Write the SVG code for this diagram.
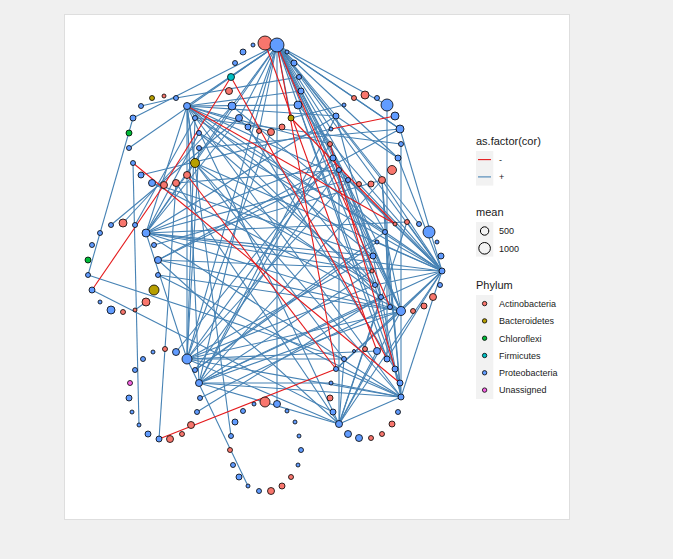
<svg xmlns="http://www.w3.org/2000/svg" width="673" height="559" viewBox="0 0 673 559">
<style>
.p{stroke:#4682B4;stroke-width:1.1;fill:none}
.n{stroke:#E41A1C;stroke-width:1.1;fill:none}
#nodes circle{stroke:#000;stroke-width:0.8}
.R{fill:#F8766D}.O{fill:#B79F00}.G{fill:#00BA38}.T{fill:#00BFC4}.B{fill:#619CFF}.P{fill:#F564E3}
text{font-family:"Liberation Sans",Arial,sans-serif;fill:#1a1a1a}
.tt{font-size:11px}.lb{font-size:9px}
.key{fill:#F2F2F2}
</style>
<rect x="0" y="0" width="673" height="559" fill="#F0F0F0"/>
<rect x="64.5" y="14.5" width="505" height="505" fill="#FFFFFF" stroke="#DEDEDE"/>
<g id="edges">
<line class="p" x1="277" y1="45" x2="187" y2="106"/>
<line class="p" x1="277" y1="45" x2="133" y2="118"/>
<line class="p" x1="277" y1="45" x2="129" y2="148"/>
<line class="p" x1="277" y1="45" x2="231" y2="77"/>
<line class="p" x1="277" y1="45" x2="232" y2="106"/>
<line class="p" x1="277" y1="45" x2="239" y2="118"/>
<line class="p" x1="277" y1="45" x2="248" y2="127"/>
<line class="p" x1="277" y1="45" x2="259" y2="131"/>
<line class="p" x1="277" y1="45" x2="291" y2="118"/>
<line class="p" x1="277" y1="45" x2="294" y2="63"/>
<line class="p" x1="277" y1="45" x2="336" y2="116"/>
<line class="p" x1="277" y1="45" x2="331" y2="129"/>
<line class="p" x1="277" y1="45" x2="333" y2="158"/>
<line class="p" x1="277" y1="45" x2="348" y2="180"/>
<line class="p" x1="277" y1="45" x2="387" y2="105"/>
<line class="p" x1="277" y1="45" x2="400" y2="129"/>
<line class="p" x1="277" y1="45" x2="398" y2="158"/>
<line class="p" x1="277" y1="45" x2="442" y2="271"/>
<line class="p" x1="277" y1="45" x2="401" y2="311"/>
<line class="p" x1="277" y1="45" x2="385" y2="232"/>
<line class="p" x1="277" y1="45" x2="373" y2="256"/>
<line class="p" x1="277" y1="45" x2="419" y2="224"/>
<line class="p" x1="277" y1="45" x2="387" y2="359"/>
<line class="p" x1="277" y1="45" x2="187" y2="359"/>
<line class="p" x1="277" y1="45" x2="146" y2="233"/>
<line class="p" x1="277" y1="45" x2="277" y2="404"/>
<line class="p" x1="277" y1="45" x2="375" y2="285"/>
<line class="p" x1="277" y1="45" x2="382" y2="180"/>
<line class="p" x1="187" y1="106" x2="298" y2="105"/>
<line class="p" x1="187" y1="106" x2="336" y2="116"/>
<line class="p" x1="187" y1="106" x2="330" y2="144"/>
<line class="p" x1="187" y1="106" x2="301" y2="91"/>
<line class="p" x1="187" y1="106" x2="271" y2="132"/>
<line class="p" x1="187" y1="106" x2="373" y2="256"/>
<line class="p" x1="187" y1="106" x2="442" y2="271"/>
<line class="p" x1="187" y1="106" x2="381" y2="297"/>
<line class="p" x1="187" y1="106" x2="187" y2="359"/>
<line class="p" x1="187" y1="106" x2="199" y2="383"/>
<line class="p" x1="187" y1="106" x2="339" y2="424"/>
<line class="p" x1="187" y1="106" x2="401" y2="397"/>
<line class="p" x1="187" y1="106" x2="348" y2="180"/>
<line class="p" x1="187" y1="106" x2="195" y2="163"/>
<line class="p" x1="187" y1="106" x2="146" y2="233"/>
<line class="p" x1="187" y1="106" x2="231" y2="436"/>
<line class="p" x1="176" y1="98" x2="141" y2="106"/>
<line class="p" x1="176" y1="98" x2="299" y2="77"/>
<line class="p" x1="146" y1="233" x2="232" y2="106"/>
<line class="p" x1="146" y1="233" x2="239" y2="118"/>
<line class="p" x1="146" y1="233" x2="199" y2="133"/>
<line class="p" x1="146" y1="233" x2="333" y2="158"/>
<line class="p" x1="146" y1="233" x2="336" y2="116"/>
<line class="p" x1="146" y1="233" x2="373" y2="256"/>
<line class="p" x1="146" y1="233" x2="372" y2="271"/>
<line class="p" x1="146" y1="233" x2="442" y2="271"/>
<line class="p" x1="146" y1="233" x2="187" y2="359"/>
<line class="p" x1="146" y1="233" x2="401" y2="397"/>
<line class="p" x1="146" y1="233" x2="401" y2="311"/>
<line class="p" x1="146" y1="233" x2="348" y2="180"/>
<line class="p" x1="123" y1="223" x2="232" y2="106"/>
<line class="p" x1="88" y1="275" x2="133" y2="118"/>
<line class="p" x1="88" y1="275" x2="344" y2="359"/>
<line class="p" x1="92" y1="290" x2="333" y2="412"/>
<line class="p" x1="146" y1="302" x2="135" y2="310"/>
<line class="p" x1="158" y1="260" x2="442" y2="271"/>
<line class="p" x1="158" y1="260" x2="401" y2="311"/>
<line class="p" x1="158" y1="260" x2="339" y2="170"/>
<line class="p" x1="158" y1="275" x2="401" y2="311"/>
<line class="p" x1="158" y1="275" x2="401" y2="397"/>
<line class="p" x1="154" y1="245" x2="382" y2="180"/>
<line class="p" x1="135" y1="225" x2="195" y2="118"/>
<line class="p" x1="111" y1="225" x2="239" y2="118"/>
<line class="p" x1="442" y1="271" x2="348" y2="180"/>
<line class="p" x1="442" y1="271" x2="382" y2="180"/>
<line class="p" x1="442" y1="271" x2="339" y2="170"/>
<line class="p" x1="442" y1="271" x2="398" y2="158"/>
<line class="p" x1="442" y1="271" x2="400" y2="129"/>
<line class="p" x1="442" y1="271" x2="298" y2="105"/>
<line class="p" x1="442" y1="271" x2="199" y2="133"/>
<line class="p" x1="442" y1="271" x2="195" y2="163"/>
<line class="p" x1="442" y1="271" x2="385" y2="232"/>
<line class="p" x1="442" y1="271" x2="377" y2="242"/>
<line class="p" x1="442" y1="271" x2="375" y2="285"/>
<line class="p" x1="442" y1="271" x2="401" y2="311"/>
<line class="p" x1="442" y1="271" x2="401" y2="397"/>
<line class="p" x1="442" y1="271" x2="387" y2="359"/>
<line class="p" x1="442" y1="271" x2="336" y2="369"/>
<line class="p" x1="442" y1="271" x2="199" y2="383"/>
<line class="p" x1="442" y1="271" x2="339" y2="424"/>
<line class="p" x1="442" y1="271" x2="359" y2="184"/>
<line class="p" x1="442" y1="271" x2="407" y2="222"/>
<line class="p" x1="401" y1="311" x2="401" y2="144"/>
<line class="p" x1="401" y1="311" x2="339" y2="170"/>
<line class="p" x1="401" y1="311" x2="330" y2="144"/>
<line class="p" x1="401" y1="311" x2="195" y2="163"/>
<line class="p" x1="401" y1="311" x2="152" y2="183"/>
<line class="p" x1="401" y1="311" x2="199" y2="383"/>
<line class="p" x1="401" y1="311" x2="187" y2="359"/>
<line class="p" x1="401" y1="311" x2="401" y2="397"/>
<line class="p" x1="401" y1="311" x2="339" y2="424"/>
<line class="p" x1="401" y1="311" x2="385" y2="232"/>
<line class="p" x1="401" y1="311" x2="373" y2="256"/>
<line class="p" x1="401" y1="311" x2="336" y2="369"/>
<line class="p" x1="401" y1="397" x2="375" y2="285"/>
<line class="p" x1="401" y1="397" x2="373" y2="256"/>
<line class="p" x1="401" y1="397" x2="339" y2="424"/>
<line class="p" x1="401" y1="397" x2="331" y2="383"/>
<line class="p" x1="401" y1="397" x2="336" y2="369"/>
<line class="p" x1="401" y1="397" x2="199" y2="383"/>
<line class="p" x1="401" y1="397" x2="187" y2="359"/>
<line class="p" x1="401" y1="397" x2="195" y2="163"/>
<line class="p" x1="401" y1="397" x2="382" y2="180"/>
<line class="p" x1="401" y1="397" x2="385" y2="232"/>
<line class="p" x1="339" y1="424" x2="377" y2="351"/>
<line class="p" x1="339" y1="424" x2="199" y2="383"/>
<line class="p" x1="339" y1="424" x2="187" y2="359"/>
<line class="p" x1="339" y1="424" x2="339" y2="170"/>
<line class="p" x1="339" y1="424" x2="176" y2="183"/>
<line class="p" x1="339" y1="424" x2="381" y2="297"/>
<line class="p" x1="339" y1="424" x2="344" y2="359"/>
<line class="p" x1="339" y1="424" x2="158" y2="260"/>
<line class="p" x1="187" y1="359" x2="333" y2="158"/>
<line class="p" x1="187" y1="359" x2="348" y2="180"/>
<line class="p" x1="187" y1="359" x2="373" y2="256"/>
<line class="p" x1="187" y1="359" x2="375" y2="285"/>
<line class="p" x1="187" y1="359" x2="344" y2="359"/>
<line class="p" x1="187" y1="359" x2="377" y2="351"/>
<line class="p" x1="187" y1="359" x2="199" y2="148"/>
<line class="p" x1="187" y1="359" x2="195" y2="118"/>
<line class="p" x1="187" y1="359" x2="271" y2="132"/>
<line class="p" x1="199" y1="383" x2="330" y2="144"/>
<line class="p" x1="199" y1="383" x2="372" y2="271"/>
<line class="p" x1="199" y1="383" x2="381" y2="297"/>
<line class="p" x1="199" y1="383" x2="259" y2="131"/>
<line class="p" x1="199" y1="383" x2="382" y2="180"/>
<line class="p" x1="199" y1="383" x2="331" y2="383"/>
<line class="p" x1="159" y1="439" x2="176" y2="183"/>
<line class="p" x1="197" y1="412" x2="381" y2="297"/>
<line class="p" x1="195" y1="370" x2="339" y2="170"/>
<line class="p" x1="195" y1="370" x2="377" y2="242"/>
<line class="p" x1="336" y1="116" x2="398" y2="158"/>
<line class="p" x1="336" y1="116" x2="199" y2="383"/>
<line class="p" x1="336" y1="116" x2="373" y2="256"/>
<line class="p" x1="400" y1="129" x2="287" y2="52"/>
<line class="p" x1="400" y1="129" x2="199" y2="148"/>
<line class="p" x1="400" y1="129" x2="158" y2="260"/>
<line class="p" x1="401" y1="144" x2="195" y2="118"/>
<line class="p" x1="387" y1="105" x2="387" y2="359"/>
<line class="p" x1="344" y1="105" x2="291" y2="118"/>
<line class="p" x1="333" y1="158" x2="381" y2="297"/>
<line class="p" x1="339" y1="170" x2="176" y2="183"/>
<line class="p" x1="348" y1="180" x2="372" y2="271"/>
<line class="p" x1="382" y1="180" x2="390" y2="307"/>
<line class="p" x1="385" y1="232" x2="195" y2="118"/>
<line class="p" x1="385" y1="232" x2="195" y2="370"/>
<line class="p" x1="375" y1="285" x2="199" y2="133"/>
<line class="p" x1="407" y1="222" x2="339" y2="424"/>
<line class="p" x1="407" y1="222" x2="146" y2="233"/>
<line class="p" x1="248" y1="486" x2="187" y2="359"/>
<line class="p" x1="187" y1="175" x2="375" y2="285"/>
<line class="p" x1="152" y1="183" x2="373" y2="256"/>
<line class="p" x1="141" y1="175" x2="331" y2="129"/>
<line class="p" x1="133" y1="163" x2="139" y2="425"/>
<line class="p" x1="176" y1="352" x2="333" y2="158"/>
<line class="p" x1="200" y1="398" x2="390" y2="307"/>
<line class="p" x1="344" y1="359" x2="195" y2="163"/>
<line class="p" x1="301" y1="91" x2="377" y2="242"/>
<line class="p" x1="298" y1="105" x2="400" y2="383"/>
<line class="p" x1="239" y1="118" x2="375" y2="285"/>
<line class="p" x1="248" y1="127" x2="395" y2="369"/>
<line class="p" x1="232" y1="106" x2="385" y2="232"/>
<line class="n" x1="187" y1="106" x2="395" y2="224"/>
<line class="n" x1="231" y1="77" x2="164" y2="185"/>
<line class="n" x1="231" y1="77" x2="387" y2="359"/>
<line class="n" x1="133" y1="163" x2="400" y2="383"/>
<line class="n" x1="92" y1="290" x2="164" y2="185"/>
<line class="n" x1="331" y1="129" x2="395" y2="116"/>
<line class="n" x1="277" y1="45" x2="336" y2="369"/>
<line class="n" x1="159" y1="439" x2="336" y2="369"/>
<line class="n" x1="187" y1="175" x2="336" y2="369"/>
<line class="n" x1="265" y1="43" x2="377" y2="351"/>
<line class="n" x1="277" y1="45" x2="390" y2="307"/>
<line class="n" x1="330" y1="144" x2="395" y2="369"/>
<line class="n" x1="291" y1="118" x2="395" y2="224"/>
</g>
<g id="nodes">
<g id="a0"><circle class="R" cx="265" cy="43" r="7"/></g>
<g id="a1"><circle class="B" cx="277" cy="45" r="7"/></g>
<g id="a2"><circle class="B" cx="287" cy="52" r="2"/></g>
<g id="a3"><circle class="B" cx="294" cy="63" r="3"/></g>
<g id="a4"><circle class="B" cx="299" cy="77" r="2.5"/></g>
<g id="a5"><circle class="B" cx="301" cy="91" r="3"/></g>
<g id="a6"><circle class="B" cx="298" cy="105" r="4"/></g>
<g id="a7"><circle class="O" cx="291" cy="118" r="3"/></g>
<g id="a8"><circle class="R" cx="282" cy="127" r="3"/></g>
<g id="a9"><circle class="R" cx="271" cy="132" r="3.5"/></g>
<g id="a10"><circle class="R" cx="259" cy="131" r="2.5"/></g>
<g id="a11"><circle class="B" cx="248" cy="127" r="3"/></g>
<g id="a12"><circle class="B" cx="239" cy="118" r="3.5"/></g>
<g id="a13"><circle class="B" cx="232" cy="106" r="4"/></g>
<g id="a14"><circle class="R" cx="229" cy="91" r="3.5"/></g>
<g id="a15"><circle class="T" cx="231" cy="77" r="3.5"/></g>
<g id="a16"><circle class="B" cx="235" cy="63" r="2.5"/></g>
<g id="a17"><circle class="B" cx="243" cy="52" r="3"/></g>
<g id="a18"><circle class="B" cx="253" cy="45" r="2"/></g>
<g id="b0"><circle class="O" cx="152" cy="98" r="2.5"/></g>
<g id="b1"><circle class="R" cx="164" cy="96" r="2"/></g>
<g id="b2"><circle class="B" cx="176" cy="98" r="2.5"/></g>
<g id="b3"><circle class="B" cx="187" cy="106" r="3.5"/></g>
<g id="b4"><circle class="B" cx="195" cy="118" r="2.5"/></g>
<g id="b5"><circle class="B" cx="199" cy="133" r="2.5"/></g>
<g id="b6"><circle class="B" cx="199" cy="148" r="2.5"/></g>
<g id="b7"><circle class="O" cx="195" cy="163" r="4.5"/></g>
<g id="b8"><circle class="R" cx="187" cy="175" r="3.5"/></g>
<g id="b9"><circle class="R" cx="176" cy="183" r="3.5"/></g>
<g id="b10"><circle class="R" cx="164" cy="185" r="3.5"/></g>
<g id="b11"><circle class="B" cx="152" cy="183" r="3.5"/></g>
<g id="b12"><circle class="B" cx="141" cy="175" r="3"/></g>
<g id="b13"><circle class="B" cx="133" cy="163" r="2.5"/></g>
<g id="b14"><circle class="B" cx="129" cy="148" r="2.5"/></g>
<g id="b15"><circle class="G" cx="129" cy="133" r="3"/></g>
<g id="b16"><circle class="B" cx="133" cy="118" r="3"/></g>
<g id="b17"><circle class="B" cx="141" cy="106" r="2.5"/></g>
<g id="c0"><circle class="R" cx="354" cy="98" r="2.5"/></g>
<g id="c1"><circle class="R" cx="365" cy="95" r="4"/></g>
<g id="c2"><circle class="B" cx="377" cy="98" r="2.5"/></g>
<g id="c3"><circle class="B" cx="387" cy="105" r="6"/></g>
<g id="c4"><circle class="B" cx="395" cy="116" r="4"/></g>
<g id="c5"><circle class="B" cx="400" cy="129" r="4"/></g>
<g id="c6"><circle class="B" cx="401" cy="144" r="2.5"/></g>
<g id="c7"><circle class="B" cx="398" cy="158" r="3"/></g>
<g id="c8"><circle class="R" cx="392" cy="170" r="4.5"/></g>
<g id="c9"><circle class="R" cx="382" cy="180" r="3.5"/></g>
<g id="c10"><circle class="R" cx="371" cy="184" r="3"/></g>
<g id="c11"><circle class="R" cx="359" cy="184" r="2.5"/></g>
<g id="c12"><circle class="B" cx="348" cy="180" r="2.5"/></g>
<g id="c13"><circle class="B" cx="339" cy="170" r="2.5"/></g>
<g id="c14"><circle class="B" cx="333" cy="158" r="3"/></g>
<g id="c15"><circle class="R" cx="330" cy="144" r="2.5"/></g>
<g id="c16"><circle class="B" cx="331" cy="129" r="2"/></g>
<g id="c17"><circle class="B" cx="336" cy="116" r="3"/></g>
<g id="c18"><circle class="B" cx="344" cy="105" r="2"/></g>
<g id="d0"><circle class="R" cx="123" cy="223" r="4"/></g>
<g id="d1"><circle class="B" cx="135" cy="225" r="2.5"/></g>
<g id="d2"><circle class="B" cx="146" cy="233" r="4"/></g>
<g id="d3"><circle class="B" cx="154" cy="245" r="2.5"/></g>
<g id="d4"><circle class="B" cx="158" cy="260" r="3.5"/></g>
<g id="d5"><circle class="B" cx="158" cy="275" r="2.5"/></g>
<g id="d6"><circle class="O" cx="154" cy="290" r="5"/></g>
<g id="d7"><circle class="R" cx="146" cy="302" r="4"/></g>
<g id="d8"><circle class="R" cx="135" cy="310" r="2"/></g>
<g id="d9"><circle class="R" cx="123" cy="312" r="2.5"/></g>
<g id="d10"><circle class="B" cx="111" cy="310" r="4"/></g>
<g id="d11"><circle class="B" cx="100" cy="302" r="2"/></g>
<g id="d12"><circle class="B" cx="92" cy="290" r="3"/></g>
<g id="d13"><circle class="B" cx="88" cy="275" r="2.5"/></g>
<g id="d14"><circle class="G" cx="88" cy="260" r="3"/></g>
<g id="d15"><circle class="B" cx="92" cy="245" r="2.5"/></g>
<g id="d16"><circle class="B" cx="100" cy="233" r="2.5"/></g>
<g id="d17"><circle class="B" cx="111" cy="225" r="2.5"/></g>
<g id="e0"><circle class="R" cx="395" cy="224" r="2"/></g>
<g id="e1"><circle class="R" cx="407" cy="222" r="2.5"/></g>
<g id="e2"><circle class="B" cx="419" cy="224" r="2.5"/></g>
<g id="e3"><circle class="B" cx="429" cy="232" r="6"/></g>
<g id="e4"><circle class="B" cx="437" cy="242" r="2"/></g>
<g id="e5"><circle class="B" cx="441" cy="256" r="3"/></g>
<g id="e6"><circle class="B" cx="442" cy="271" r="3"/></g>
<g id="e7"><circle class="B" cx="440" cy="285" r="2.5"/></g>
<g id="e8"><circle class="R" cx="433" cy="297" r="3.5"/></g>
<g id="e9"><circle class="R" cx="424" cy="306" r="3"/></g>
<g id="e10"><circle class="R" cx="413" cy="311" r="2.5"/></g>
<g id="e11"><circle class="B" cx="401" cy="311" r="4.5"/></g>
<g id="e12"><circle class="B" cx="390" cy="307" r="2.5"/></g>
<g id="e13"><circle class="B" cx="381" cy="297" r="2.5"/></g>
<g id="e14"><circle class="B" cx="375" cy="285" r="2.5"/></g>
<g id="e15"><circle class="R" cx="372" cy="271" r="2"/></g>
<g id="e16"><circle class="B" cx="373" cy="256" r="3"/></g>
<g id="e17"><circle class="B" cx="377" cy="242" r="2"/></g>
<g id="e18"><circle class="B" cx="385" cy="232" r="2.5"/></g>
<g id="f0"><circle class="B" cx="176" cy="352" r="3.5"/></g>
<g id="f1"><circle class="R" cx="165" cy="349" r="2.5"/></g>
<g id="f2"><circle class="B" cx="153" cy="352" r="2"/></g>
<g id="f3"><circle class="B" cx="143" cy="359" r="2.5"/></g>
<g id="f4"><circle class="B" cx="135" cy="370" r="2.5"/></g>
<g id="f5"><circle class="P" cx="130" cy="383" r="2.5"/></g>
<g id="f6"><circle class="B" cx="129" cy="398" r="3"/></g>
<g id="f7"><circle class="B" cx="132" cy="412" r="2"/></g>
<g id="f8"><circle class="B" cx="139" cy="425" r="2"/></g>
<g id="f9"><circle class="B" cx="148" cy="434" r="3"/></g>
<g id="f10"><circle class="B" cx="159" cy="439" r="3"/></g>
<g id="f11"><circle class="R" cx="170" cy="439" r="3.5"/></g>
<g id="f12"><circle class="R" cx="182" cy="434" r="2.5"/></g>
<g id="f13"><circle class="R" cx="191" cy="425" r="3.5"/></g>
<g id="f14"><circle class="B" cx="197" cy="412" r="2.5"/></g>
<g id="f15"><circle class="B" cx="200" cy="398" r="2.5"/></g>
<g id="f16"><circle class="B" cx="199" cy="383" r="3.5"/></g>
<g id="f17"><circle class="B" cx="195" cy="370" r="2.5"/></g>
<g id="f18"><circle class="B" cx="187" cy="359" r="5"/></g>
<g id="g0"><circle class="B" cx="254" cy="404" r="2"/></g>
<g id="g1"><circle class="R" cx="265" cy="402" r="5"/></g>
<g id="g2"><circle class="B" cx="277" cy="404" r="3.5"/></g>
<g id="g3"><circle class="B" cx="287" cy="411" r="2"/></g>
<g id="g4"><circle class="B" cx="295" cy="422" r="2"/></g>
<g id="g5"><circle class="B" cx="299" cy="436" r="2"/></g>
<g id="g6"><circle class="B" cx="301" cy="450" r="2.5"/></g>
<g id="g7"><circle class="B" cx="298" cy="465" r="2"/></g>
<g id="g8"><circle class="R" cx="291" cy="477" r="2.5"/></g>
<g id="g9"><circle class="R" cx="282" cy="486" r="3"/></g>
<g id="g10"><circle class="R" cx="271" cy="491" r="3.5"/></g>
<g id="g11"><circle class="B" cx="259" cy="491" r="2.5"/></g>
<g id="g12"><circle class="B" cx="248" cy="486" r="2"/></g>
<g id="g13"><circle class="B" cx="239" cy="477" r="3"/></g>
<g id="g14"><circle class="B" cx="233" cy="465" r="2.5"/></g>
<g id="g15"><circle class="R" cx="230" cy="450" r="2.5"/></g>
<g id="g16"><circle class="B" cx="231" cy="436" r="2.5"/></g>
<g id="g17"><circle class="B" cx="235" cy="422" r="3"/></g>
<g id="g18"><circle class="B" cx="243" cy="411" r="2.5"/></g>
<g id="h0"><circle class="B" cx="354" cy="351" r="1.5"/></g>
<g id="h1"><circle class="R" cx="365" cy="349" r="2.5"/></g>
<g id="h2"><circle class="B" cx="377" cy="351" r="3.5"/></g>
<g id="h3"><circle class="B" cx="387" cy="359" r="3"/></g>
<g id="h4"><circle class="B" cx="395" cy="369" r="3"/></g>
<g id="h5"><circle class="B" cx="400" cy="383" r="3"/></g>
<g id="h6"><circle class="B" cx="401" cy="397" r="3"/></g>
<g id="h7"><circle class="B" cx="398" cy="412" r="2.5"/></g>
<g id="h8"><circle class="R" cx="392" cy="424" r="3"/></g>
<g id="h9"><circle class="R" cx="382" cy="434" r="2.5"/></g>
<g id="h10"><circle class="R" cx="371" cy="438" r="2.5"/></g>
<g id="h11"><circle class="B" cx="359" cy="438" r="3.5"/></g>
<g id="h12"><circle class="B" cx="348" cy="434" r="3.5"/></g>
<g id="h13"><circle class="B" cx="339" cy="424" r="3.5"/></g>
<g id="h14"><circle class="B" cx="333" cy="412" r="3"/></g>
<g id="h15"><circle class="R" cx="330" cy="398" r="3"/></g>
<g id="h16"><circle class="B" cx="331" cy="383" r="2"/></g>
<g id="h17"><circle class="B" cx="336" cy="369" r="2.5"/></g>
<g id="h18"><circle class="B" cx="344" cy="359" r="2.5"/></g>
</g>
<g id="legend">
<text class="tt" x="476" y="145">as.factor(cor)</text>
<rect class="key" x="476" y="151" width="17.3" height="34.6"/>
<line x1="478" y1="159.6" x2="491" y2="159.6" stroke="#E41A1C" stroke-width="1.1"/>
<line x1="478" y1="176.9" x2="491" y2="176.9" stroke="#4682B4" stroke-width="1.1"/>
<text class="lb" x="499" y="163">-</text>
<text class="lb" x="499" y="180">+</text>
<text class="tt" x="476" y="216">mean</text>
<rect class="key" x="476" y="222" width="17.3" height="34.6"/>
<circle cx="484.6" cy="231" r="4.2" fill="none" stroke="#000" stroke-width="1"/>
<circle cx="484.6" cy="248.3" r="5.8" fill="none" stroke="#000" stroke-width="1"/>
<text class="lb" x="499" y="234.3">500</text>
<text class="lb" x="499" y="251.6">1000</text>
<text class="tt" x="476" y="289">Phylum</text>
<rect class="key" x="476" y="295" width="17.3" height="104"/>
<g stroke="#000" stroke-width="0.8">
<circle class="R" cx="484.6" cy="303.6" r="2.2"/>
<circle class="O" cx="484.6" cy="320.9" r="2.2"/>
<circle class="G" cx="484.6" cy="338.2" r="2.2"/>
<circle class="T" cx="484.6" cy="355.5" r="2.2"/>
<circle class="B" cx="484.6" cy="372.8" r="2.2"/>
<circle class="P" cx="484.6" cy="390.1" r="2.2"/>
</g>
<text class="lb" x="499" y="306.9">Actinobacteria</text>
<text class="lb" x="499" y="324.2">Bacteroidetes</text>
<text class="lb" x="499" y="341.5">Chloroflexi</text>
<text class="lb" x="499" y="358.8">Firmicutes</text>
<text class="lb" x="499" y="376.1">Proteobacteria</text>
<text class="lb" x="499" y="393.4">Unassigned</text>
</g>
</svg>
